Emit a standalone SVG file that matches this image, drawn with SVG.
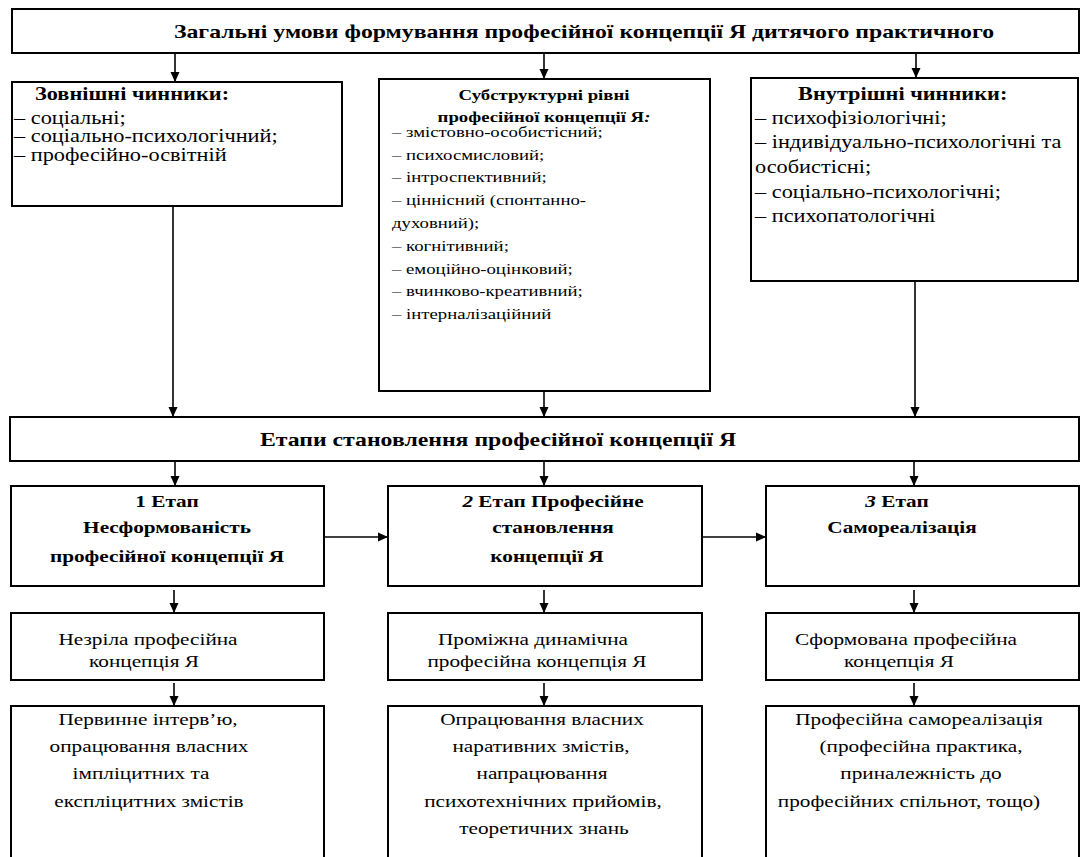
<svg xmlns="http://www.w3.org/2000/svg" width="1080" height="857" viewBox="0 0 1080 857">
<style>
.box{fill:#fff;stroke:#000;stroke-width:2}
.t{font-family:"Liberation Serif","Times New Roman",serif;fill:#000}
.b{font-weight:bold}
.c{text-anchor:middle}
.s18{font-size:18px}.s17{font-size:17px}.s15{font-size:15px}.s19{font-size:19px}
.i{font-style:italic}
#connectors line{stroke:#000;stroke-width:1.6;marker-end:url(#ah)}
</style>
<defs>
<marker id="ah" markerWidth="10" markerHeight="10" viewBox="0 0 10 10" refX="10" refY="5" orient="auto" markerUnits="userSpaceOnUse"><path d="M0,0.5 L10,5 L0,9.5 z" fill="#000"/></marker>
</defs>
<rect width="1080" height="857" fill="#fff"/>

<g id="n-top">
<rect class="box" x="12" y="9" width="1067" height="44"/>
<text class="t b c s19" transform="translate(584 0) scale(1.25 1)" x="0" y="38">Загальні умови формування професійної концепції Я дитячого практичного</text>
</g>

<g id="n-external">
<rect class="box" x="12" y="82" width="330" height="124"/>
<g transform="translate(35 0) scale(1.24 1)"><text class="t b s18" x="0" y="100">Зовнішні чинники:</text></g>
<g transform="translate(14 0) scale(1.24 1)" class="t s18">
<text x="0" y="124">– соціальні;</text>
<text x="0" y="142.5">– соціально-психологічний;</text>
<text x="0" y="161">– професійно-освітній</text>
</g>
</g>

<g id="n-substructure">
<rect class="box" x="379" y="79" width="331" height="312"/>
<g transform="translate(544 0) scale(1.25 1)" class="t b c s15">
<text x="0" y="100">Субструктурні рівні</text>
<text x="0" y="122">професійної концепції Я<tspan class="i">:</tspan></text>
</g>
<g transform="translate(392 0) scale(1.25 1)" class="t s15">
<text x="0" y="137">– змістовно-особистісний;</text>
<text x="0" y="160">– психосмисловий;</text>
<text x="0" y="182">– інтроспективний;</text>
<text x="0" y="205">– ціннісний (спонтанно-</text>
<text x="0" y="228">духовний);</text>
<text x="0" y="251">– когнітивний;</text>
<text x="0" y="274">– емоційно-оцінковий;</text>
<text x="0" y="296">– вчинково-креативний;</text>
<text x="0" y="319">– інтерналізаційний</text>
</g>
</g>

<g id="n-internal">
<rect class="box" x="751" y="78" width="327" height="203"/>
<g transform="translate(798 0) scale(1.24 1)"><text class="t b s18" x="0" y="100">Внутрішні чинники:</text></g>
<g transform="translate(755 0) scale(1.24 1)" class="t s18">
<text x="0" y="124">– психофізіологічні;</text>
<text x="0" y="148">– індивідуально-психологічні та</text>
<text x="0" y="173">особистісні;</text>
<text x="0" y="198">– соціально-психологічні;</text>
<text x="0" y="222">– психопатологічні</text>
</g>
</g>

<g id="n-stages">
<rect class="box" x="10" y="417" width="1069" height="44"/>
<text class="t b c s19" transform="translate(498 0) scale(1.25 1)" x="0" y="446">Етапи становлення професійної концепції Я</text>
</g>

<g id="n-stage1">
<rect class="box" x="11" y="486" width="313" height="100"/>
<g transform="translate(167 0) scale(1.25 1)" class="t b c s17">
<text x="0" y="507">1 Етап</text>
<text x="0" y="533">Несформованість</text>
<text x="0" y="562">професійної концепції Я</text>
</g>
</g>

<g id="n-stage2">
<rect class="box" x="388" y="486" width="314" height="100"/>
<g class="t b c s17">
<text transform="translate(553 0) scale(1.25 1)" x="0" y="507"><tspan class="i">2</tspan> Етап Професійне</text>
<text transform="translate(553 0) scale(1.25 1)" x="0" y="533">становлення</text>
<text transform="translate(547 0) scale(1.25 1)" x="0" y="562">концепції Я</text>
</g>
</g>

<g id="n-stage3">
<rect class="box" x="766" y="486" width="313" height="100"/>
<g class="t b c s17">
<text transform="translate(897 0) scale(1.25 1)" x="0" y="507"><tspan class="i">3</tspan> Етап</text>
<text transform="translate(902 0) scale(1.25 1)" x="0" y="533">Самореалізація</text>
</g>
</g>

<g id="n-concept1">
<rect class="box" x="11" y="613" width="313" height="67"/>
<g class="t c s17">
<text transform="translate(148 0) scale(1.25 1)" x="0" y="645">Незріла професійна</text>
<text transform="translate(144 0) scale(1.25 1)" x="0" y="667">концепція Я</text>
</g>
</g>

<g id="n-concept2">
<rect class="box" x="388" y="613" width="314" height="67"/>
<g class="t c s17">
<text transform="translate(533 0) scale(1.25 1)" x="0" y="645">Проміжна динамічна</text>
<text transform="translate(537 0) scale(1.25 1)" x="0" y="667">професійна концепція Я</text>
</g>
</g>

<g id="n-concept3">
<rect class="box" x="766" y="613" width="313" height="67"/>
<g class="t c s17">
<text transform="translate(906 0) scale(1.25 1)" x="0" y="645">Сформована професійна</text>
<text transform="translate(899 0) scale(1.25 1)" x="0" y="667">концепція Я</text>
</g>
</g>

<g id="n-work1">
<rect class="box" x="11" y="706" width="313" height="180"/>
<g class="t c s17">
<text transform="translate(148 0) scale(1.25 1)" x="0" y="725">Первинне інтерв’ю,</text>
<text transform="translate(149 0) scale(1.25 1)" x="0" y="752">опрацювання  власних</text>
<text transform="translate(141 0) scale(1.25 1)" x="0" y="779">імпліцитних та</text>
<text transform="translate(149 0) scale(1.25 1)" x="0" y="807">експліцитних  змістів</text>
</g>
</g>

<g id="n-work2">
<rect class="box" x="388" y="706" width="314" height="180"/>
<g class="t c s17">
<text transform="translate(542 0) scale(1.25 1)" x="0" y="725">Опрацювання власних</text>
<text transform="translate(541 0) scale(1.25 1)" x="0" y="752">наративних змістів,</text>
<text transform="translate(542 0) scale(1.25 1)" x="0" y="779">напрацювання</text>
<text transform="translate(543 0) scale(1.25 1)" x="0" y="807">психотехнічних прийомів,</text>
<text transform="translate(544 0) scale(1.25 1)" x="0" y="834">теоретичних знань</text>
</g>
</g>

<g id="n-work3">
<rect class="box" x="766" y="706" width="313" height="180"/>
<g class="t c s17">
<text transform="translate(919 0) scale(1.25 1)" x="0" y="725">Професійна самореалізація</text>
<text transform="translate(921 0) scale(1.25 1)" x="0" y="752">(професійна практика,</text>
<text transform="translate(921 0) scale(1.25 1)" x="0" y="779">приналежність до</text>
<text transform="translate(909 0) scale(1.25 1)" x="0" y="807">професійних спільнот, тощо)</text>
</g>
</g>

<g id="connectors">
<line x1="175" y1="53" x2="175" y2="82"/>
<line x1="544" y1="53" x2="544" y2="79"/>
<line x1="916" y1="53" x2="916" y2="78"/>
<line x1="173" y1="206" x2="173" y2="417"/>
<line x1="544" y1="391" x2="544" y2="417"/>
<line x1="915" y1="281" x2="915" y2="417"/>
<line x1="175" y1="461" x2="175" y2="486"/>
<line x1="544" y1="461" x2="544" y2="486"/>
<line x1="914" y1="461" x2="914" y2="486"/>
<line x1="174" y1="590" x2="174" y2="613"/>
<line x1="544" y1="590" x2="544" y2="613"/>
<line x1="914" y1="590" x2="914" y2="613"/>
<line x1="174" y1="683" x2="174" y2="706"/>
<line x1="544" y1="683" x2="544" y2="706"/>
<line x1="914" y1="683" x2="914" y2="706"/>
<line x1="324" y1="537" x2="388" y2="537"/>
<line x1="702" y1="537" x2="766" y2="537"/>
</g>
</svg>
